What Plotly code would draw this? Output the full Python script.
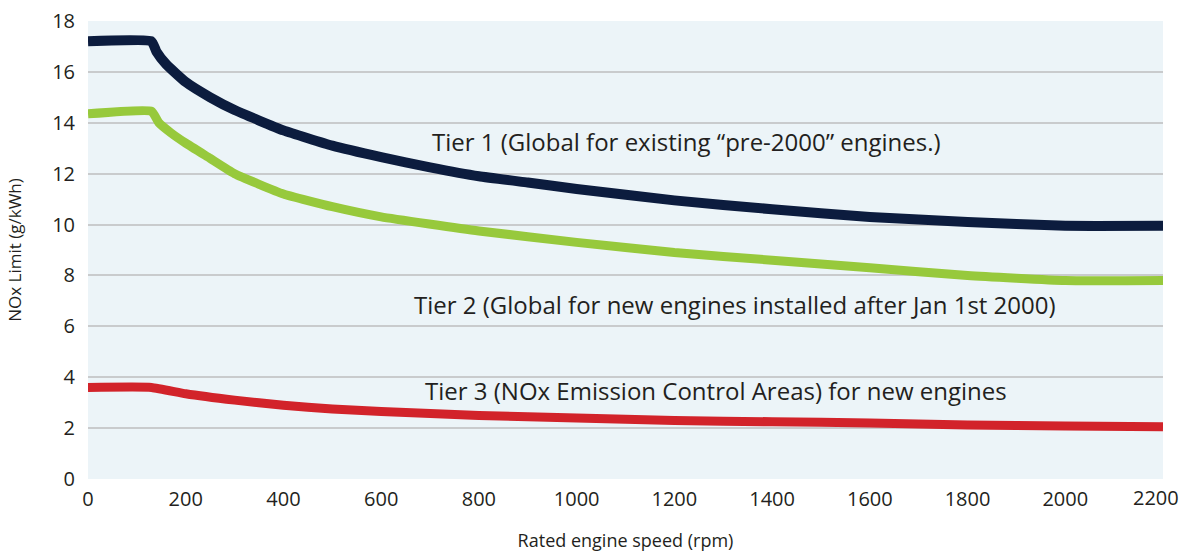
import plotly.graph_objects as go

rpm_t1 = [0, 130, 140, 160, 200, 250, 300, 400, 500, 600, 700, 800, 900, 1000, 1200, 1400, 1600, 1800, 2000, 2200]
tier1 = [17.2, 17.2, 16.8, 16.3, 15.6, 15.0, 14.5, 13.7, 13.1, 12.65, 12.25, 11.9, 11.65, 11.4, 10.95, 10.6, 10.3, 10.1, 9.95, 9.95]

rpm_t2 = [0, 130, 145, 170, 200, 250, 300, 400, 500, 600, 800, 1000, 1200, 1400, 1600, 1800, 2000, 2200]
tier2 = [14.35, 14.45, 14.0, 13.6, 13.2, 12.6, 12.0, 11.2, 10.7, 10.3, 9.75, 9.3, 8.9, 8.6, 8.3, 8.0, 7.8, 7.8]

rpm_t3 = [0, 130, 200, 300, 400, 500, 600, 800, 1000, 1200, 1400, 1600, 1800, 2000, 2200]
tier3 = [3.6, 3.6, 3.35, 3.1, 2.9, 2.75, 2.65, 2.5, 2.4, 2.3, 2.25, 2.2, 2.12, 2.08, 2.05]

labels = [
    "Tier 1 (Global for existing \u201cpre-2000\u201d engines.)",
    "Tier 2 (Global for new engines installed after Jan 1st 2000)",
    "Tier 3 (NOx Emission Control Areas) for new engines",
]
label_x = [1224, 1325, 1286]
label_y = [13.25, 6.87, 3.48]

x_ticks = list(range(0, 2201, 200))
x_ticktext = [str(v) for v in x_ticks]
y_ticks = list(range(0, 19, 2))

fig = go.Figure()
fig.add_trace(go.Scatter(x=rpm_t1, y=tier1, mode="lines",
                         line=dict(color="#0c1c3e", width=10, shape="spline", smoothing=0.4),
                         showlegend=False))
fig.add_trace(go.Scatter(x=rpm_t2, y=tier2, mode="lines",
                         line=dict(color="#97c93c", width=9, shape="spline", smoothing=0.4),
                         showlegend=False))
fig.add_trace(go.Scatter(x=rpm_t3, y=tier3, mode="lines",
                         line=dict(color="#d2232a", width=9, shape="spline", smoothing=0.4),
                         showlegend=False))

for t, xx, yy in zip(labels, label_x, label_y):
    fig.add_annotation(x=xx, y=yy, text=t, showarrow=False, xanchor="center",
                       yanchor="middle",
                       font=dict(family="Open Sans", size=24, color="#231f20"))

# last x tick label kept inside the page (right-aligned like the reference)
last_label = x_ticktext[-1]
x_ticktext[-1] = ""
fig.add_annotation(x=x_ticks[-1], y=0, xref="x", yref="y", text=last_label,
                   showarrow=False, xanchor="right", yanchor="middle",
                   xshift=18, yshift=-18.5,
                   font=dict(family="Open Sans", size=20, color="#231f20"))

fig.update_layout(
    width=1182, height=552,
    margin=dict(l=88, r=19, t=21, b=73),
    paper_bgcolor="white",
    plot_bgcolor="#ecf4f8",
    font=dict(family="Open Sans", color="#231f20"),
)
fig.update_xaxes(range=[0, 2200], tickvals=x_ticks, ticktext=x_ticktext,
                 showgrid=False, zeroline=False,
                 showline=False, ticks="", tickfont=dict(size=20), automargin=False,
                 ticklabelstandoff=6, ticklabeloverflow="allow",
                 title=dict(text="Rated engine speed (rpm)", font=dict(size=18), standoff=24))
fig.update_yaxes(range=[0, 18], tickvals=y_ticks, showgrid=True, gridcolor="#c9cbcd",
                 gridwidth=1.5, zeroline=False, showline=False, ticks="", automargin=False,
                 tickfont=dict(size=20), ticklabelstandoff=12, ticklabeloverflow="allow",
                 title=dict(text="NOx Limit (g/kWh)", font=dict(size=17), standoff=26))

fig.write_html("out.html", config={"displayModeBar": False},
               post_script="document.body.style.margin='0';")
